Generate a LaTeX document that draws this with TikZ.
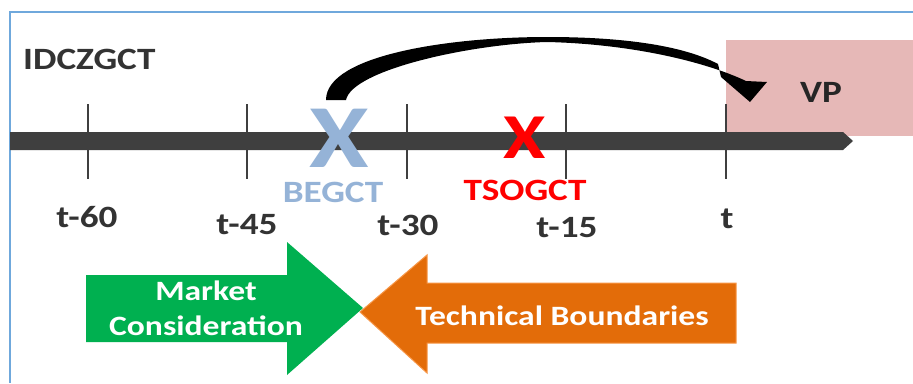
\documentclass[tikz,border=0pt]{standalone}
\usepackage{fontspec}
\setmainfont{Carlito}[FakeStretch=1.2]
\definecolor{framecol}{HTML}{6FA8DC}
\definecolor{barcol}{HTML}{3F3F3F}
\definecolor{vpfill}{HTML}{E6B8B7}
\definecolor{labelcol}{HTML}{333333}
\definecolor{begcol}{HTML}{95B3D7}
\definecolor{mcgreen}{HTML}{00B050}
\definecolor{tborange}{HTML}{E36C09}
\definecolor{tbedge}{HTML}{F79646}
\newcommand{\fs}[1]{\fontsize{#1}{#1}\selectfont\bfseries}
\begin{document}
\begin{tikzpicture}[x=1pt,y=-1pt,
  every node/.style={inner sep=0pt},
  ticklabel/.style={anchor=base, font=\fs{31}, text=labelcol},
  tickline/.style={draw=barcol, line width=2.5pt},
  arrowtext/.style={anchor=base, font=\fs{28}, text=white, align=center}]
\useasboundingbox (0,0) rectangle (913,383);
\fill[white] (0,0) rectangle (913,383);
% outer frame
\draw[framecol, line width=1.5pt] (913,12) -- (10,12) -- (10,383);

% title
\node[anchor=base west, font=\fs{31}, text=labelcol] (title) at (23,69) {IDCZGCT};

% VP zone
\fill[vpfill] (726,40) rectangle (913,136);
\node[anchor=base, font=\fs{31}, text=black!85] (vp) at (821,102) {VP};

% tapered curved arrow from BEGCT towards VP
\fill[black] (326,100) .. controls (326,55) and (450,37) .. (547,37)
  .. controls (630,37) and (686,47) .. (718,64) -- (721,77) -- (750,102)
  -- (767,82) -- (746,81) .. controls (706,62) and (632,44) .. (547,42)
  .. controls (470,44) and (352,70) .. (346,100) -- cycle;

% time axis
\fill[barcol] (10,132) -- (843,132) -- (853,141) -- (843,150) -- (10,150) -- cycle;
\foreach \x/\n in {88/a,247/b,407/c,566/d,726/e}
  \draw[tickline] (\x,104) coordinate (top\n) -- (\x,179) coordinate (bot\n);

% tick labels
\node[ticklabel] (t60) at (87,227) {t-60};
\node[ticklabel] (t45) at (247,234) {t-45};
\node[ticklabel] (t30) at (408,235) {t-30};
\node[ticklabel] (t15) at (567,237) {t-15};
\node[ticklabel] (t0)  at (727,228) {t};

% markers
\node[anchor=base, font=\fs{90}, text=begcol] (xbeg) at (339,167) {X};
\node[anchor=base, font=\fs{31}, text=begcol] (beg) at (333,202) {BEGCT};
\node[anchor=base, font=\fs{64}, text=red] (xtso) at (525,158) {X};
\node[anchor=base, font=\fs{31}, text=red] (tso) at (525,200) {TSOGCT};

% opposing block arrows
\fill[mcgreen] (86,275) -- (287,275) -- (287,242) -- (363,308) -- (287,375)
  -- (287,342) -- (86,342) -- cycle;
\filldraw[fill=tborange, draw=tbedge, line width=1pt] (736,283) -- (427,283)
  -- (427,255) -- (360,312) -- (427,373) -- (427,343) -- (736,343) -- cycle;
\node[arrowtext] (mk) at (206,335) {Market\\[7pt]Consideration};
\node[arrowtext] (tb) at (562,325) {Technical Boundaries};
\end{tikzpicture}
\end{document}
